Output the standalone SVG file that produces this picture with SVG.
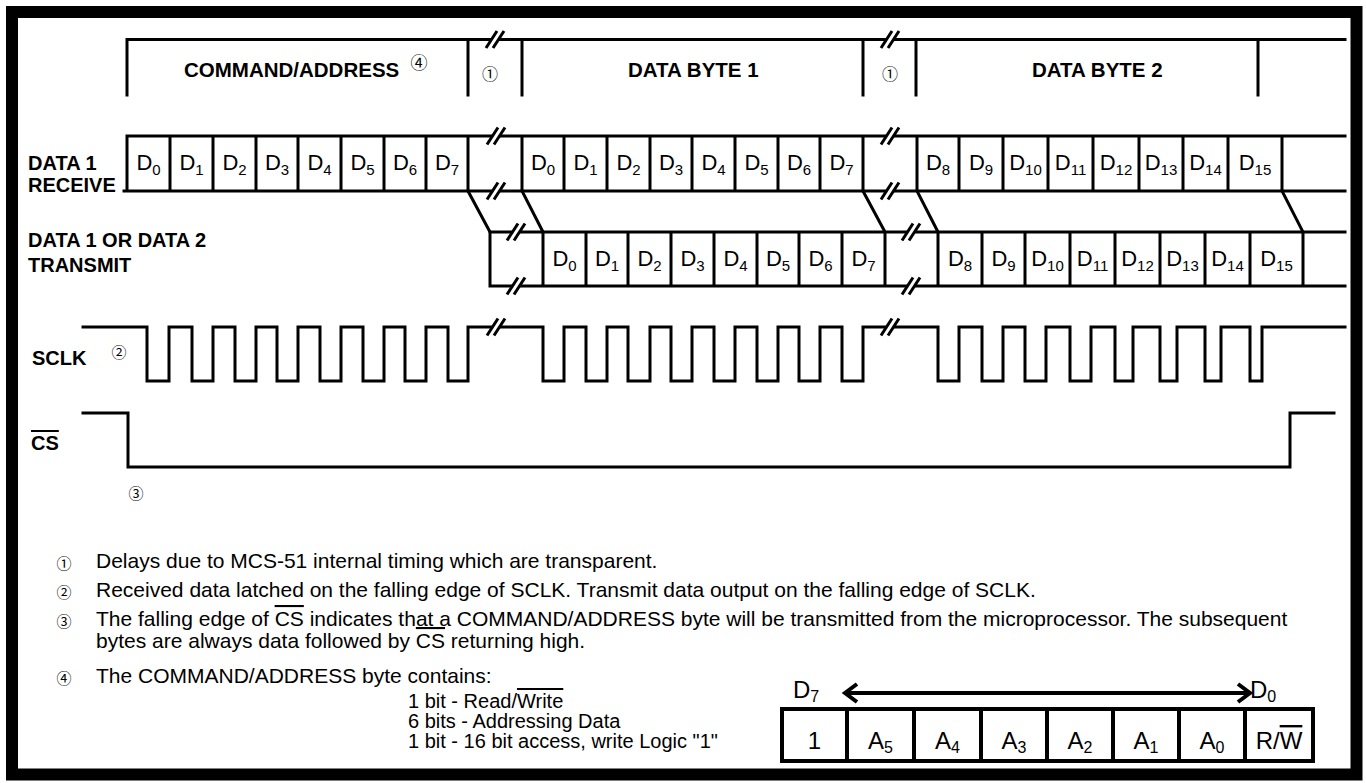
<svg xmlns="http://www.w3.org/2000/svg" xmlns:xlink="http://www.w3.org/1999/xlink" width="1366" height="783" viewBox="0 0 1366 783">
<style>
.sig{fill:none;stroke:#000;stroke-width:3;stroke-linejoin:miter;stroke-linecap:square}
.lbl{font-family:"Liberation Sans",Arial,sans-serif;font-weight:bold;font-size:20px;fill:#000}
.hdr{font-family:"Liberation Sans",Arial,sans-serif;font-weight:bold;font-size:20.5px;fill:#000}
.d{font-family:"Liberation Sans",Arial,sans-serif;font-size:22px;fill:#000;text-anchor:middle}
.sub{font-size:15px}
.note{font-family:"Liberation Sans",Arial,sans-serif;font-size:21px;fill:#000}
.sn{font-family:"Liberation Sans",Arial,sans-serif;font-size:20px;fill:#000}
.circ{font-family:"Noto Sans CJK JP","DejaVu Sans",sans-serif;fill:#000;text-anchor:middle}
.box{font-family:"Liberation Sans",Arial,sans-serif;font-size:24px;fill:#000;text-anchor:middle}
.bsub{font-size:16px}
.ov{text-decoration:overline}
</style>
<defs>
<g id="brk">
<polygon points="-9,8.5 2,-8.5 9,-8.5 -2,8.5" fill="#fff" stroke="none"/>
<line x1="-9" y1="8.5" x2="2" y2="-8.5" stroke="#000" stroke-width="3"/>
<line x1="-2" y1="8.5" x2="9" y2="-8.5" stroke="#000" stroke-width="3"/>
</g>
</defs>
<rect x="0" y="0" width="1366" height="783" fill="#fff"/>
<rect id="frame" x="12" y="12" width="1344.5" height="762.5" fill="none" stroke="#000" stroke-width="12"/>

<g id="header">
<path class="sig" d="M127,95 V39.5 H1345 M468,39.5 V95 M522,39.5 V95 M863,39.5 V95 M916,39.5 V95 M1258,39.5 V95"/>
<use xlink:href="#brk" x="495" y="39.5"/>
<use xlink:href="#brk" x="890" y="39.5"/>
<text class="hdr" x="184" y="77">COMMAND/ADDRESS</text>
<text class="circ" x="419" y="69" font-size="17">④</text>
<text class="circ" x="490" y="80" font-size="16">①</text>
<text class="hdr" x="628" y="77">DATA BYTE 1</text>
<text class="circ" x="890" y="80" font-size="16">①</text>
<text class="hdr" x="1032" y="77">DATA BYTE 2</text>
</g>

<g id="labels">
<text class="lbl" x="28" y="170">DATA 1</text>
<text class="lbl" x="28" y="192">RECEIVE</text>
<text class="lbl" x="28" y="247">DATA 1 OR DATA 2</text>
<text class="lbl" x="28" y="272">TRANSMIT</text>
<text class="lbl" x="32" y="365">SCLK</text>
<text class="circ" x="119" y="358" font-size="15">②</text>
<text class="lbl" x="31" y="450"><tspan class="ov">CS</tspan></text>
<text class="circ" x="136" y="499" font-size="15">③</text>
</g>

<g id="receive">
<path class="sig" d="M127,136 H1345 M124,191 H1345
M127,136 V191 M170,136 V191 M213,136 V191 M256,136 V191 M298,136 V191 M341,136 V191 M384,136 V191 M426,136 V191 M468,136 V191
M522,136 V191 M564,136 V191 M607,136 V191 M650,136 V191 M692,136 V191 M735,136 V191 M778,136 V191 M820,136 V191 M863,136 V191
M917,136 V191 M959,136 V191 M1003,136 V191 M1048,136 V191 M1093,136 V191 M1139,136 V191 M1183,136 V191 M1228,136 V191 M1282,136 V191"/>
<use xlink:href="#brk" x="496" y="136"/>
<use xlink:href="#brk" x="496" y="191"/>
<use xlink:href="#brk" x="890" y="136"/>
<use xlink:href="#brk" x="890" y="191"/>
<g>
<text class="d" x="148.5" y="170">D<tspan class="sub" dy="5">0</tspan></text>
<text class="d" x="191.5" y="170">D<tspan class="sub" dy="5">1</tspan></text>
<text class="d" x="234.5" y="170">D<tspan class="sub" dy="5">2</tspan></text>
<text class="d" x="277" y="170">D<tspan class="sub" dy="5">3</tspan></text>
<text class="d" x="319.5" y="170">D<tspan class="sub" dy="5">4</tspan></text>
<text class="d" x="362.5" y="170">D<tspan class="sub" dy="5">5</tspan></text>
<text class="d" x="405" y="170">D<tspan class="sub" dy="5">6</tspan></text>
<text class="d" x="447" y="170">D<tspan class="sub" dy="5">7</tspan></text>
<text class="d" x="543" y="170">D<tspan class="sub" dy="5">0</tspan></text>
<text class="d" x="585.5" y="170">D<tspan class="sub" dy="5">1</tspan></text>
<text class="d" x="628.5" y="170">D<tspan class="sub" dy="5">2</tspan></text>
<text class="d" x="671" y="170">D<tspan class="sub" dy="5">3</tspan></text>
<text class="d" x="713.5" y="170">D<tspan class="sub" dy="5">4</tspan></text>
<text class="d" x="756.5" y="170">D<tspan class="sub" dy="5">5</tspan></text>
<text class="d" x="799" y="170">D<tspan class="sub" dy="5">6</tspan></text>
<text class="d" x="841.5" y="170">D<tspan class="sub" dy="5">7</tspan></text>
<text class="d" x="938" y="170">D<tspan class="sub" dy="5">8</tspan></text>
<text class="d" x="981" y="170">D<tspan class="sub" dy="5">9</tspan></text>
<text class="d" x="1025.5" y="170">D<tspan class="sub" dy="5">10</tspan></text>
<text class="d" x="1070.5" y="170">D<tspan class="sub" dy="5">11</tspan></text>
<text class="d" x="1116" y="170">D<tspan class="sub" dy="5">12</tspan></text>
<text class="d" x="1161" y="170">D<tspan class="sub" dy="5">13</tspan></text>
<text class="d" x="1205.5" y="170">D<tspan class="sub" dy="5">14</tspan></text>
<text class="d" x="1255" y="170">D<tspan class="sub" dy="5">15</tspan></text>
</g>
</g>

<g id="connectors">
<path class="sig" d="M468,191 L490,232 M522,191 L543,232 M863,191 L885,232 M917,191 L938,232 M1282,191 L1303,232"/>
</g>

<g id="transmit">
<path class="sig" d="M490,232 H1345 M490,286 H1345
M490,232 V286 M543,232 V286 M586,232 V286 M628,232 V286 M671,232 V286 M714,232 V286 M757,232 V286 M799,232 V286 M842,232 V286 M885,232 V286
M938,232 V286 M982,232 V286 M1025,232 V286 M1070,232 V286 M1115,232 V286 M1160,232 V286 M1205,232 V286 M1250,232 V286 M1303,232 V286"/>
<use xlink:href="#brk" x="516" y="232"/>
<use xlink:href="#brk" x="516" y="286"/>
<use xlink:href="#brk" x="911" y="232"/>
<use xlink:href="#brk" x="911" y="286"/>
<g>
<text class="d" x="564.5" y="266">D<tspan class="sub" dy="5">0</tspan></text>
<text class="d" x="607" y="266">D<tspan class="sub" dy="5">1</tspan></text>
<text class="d" x="649.5" y="266">D<tspan class="sub" dy="5">2</tspan></text>
<text class="d" x="692.5" y="266">D<tspan class="sub" dy="5">3</tspan></text>
<text class="d" x="735.5" y="266">D<tspan class="sub" dy="5">4</tspan></text>
<text class="d" x="778" y="266">D<tspan class="sub" dy="5">5</tspan></text>
<text class="d" x="820.5" y="266">D<tspan class="sub" dy="5">6</tspan></text>
<text class="d" x="863.5" y="266">D<tspan class="sub" dy="5">7</tspan></text>
<text class="d" x="960" y="266">D<tspan class="sub" dy="5">8</tspan></text>
<text class="d" x="1003.5" y="266">D<tspan class="sub" dy="5">9</tspan></text>
<text class="d" x="1047.5" y="266">D<tspan class="sub" dy="5">10</tspan></text>
<text class="d" x="1092.5" y="266">D<tspan class="sub" dy="5">11</tspan></text>
<text class="d" x="1137.5" y="266">D<tspan class="sub" dy="5">12</tspan></text>
<text class="d" x="1182.5" y="266">D<tspan class="sub" dy="5">13</tspan></text>
<text class="d" x="1227.5" y="266">D<tspan class="sub" dy="5">14</tspan></text>
<text class="d" x="1276.5" y="266">D<tspan class="sub" dy="5">15</tspan></text>
</g>
</g>

<g id="sclk">
<path class="sig" d="M83,327 H147 V381 H169 V327 H192 V381 H213 V327 H235 V381 H256 V327 H277 V381 H298 V327 H320 V381 H341 V327 H363 V381 H384 V327 H405 V381 H426 V327 H448 V381 H468 V327 H543 V381 H564 V327 H586 V381 H607 V327 H628 V381 H650 V327 H671 V381 H692 V327 H714 V381 H735 V327 H757 V381 H778 V327 H799 V381 H820 V327 H842 V381 H863 V327 H938 V381 H959 V327 H982 V381 H1003 V327 H1025 V381 H1046 V327 H1070 V381 H1091 V327 H1115 V381 H1133 V327 H1160 V381 H1177 V327 H1205 V381 H1221 V327 H1250 V381 H1262 V327 H1345"/>
<use xlink:href="#brk" x="496" y="327"/>
<use xlink:href="#brk" x="890" y="327"/>
</g>

<g id="cs">
<path class="sig" d="M83,413 H128 V467 H1290 V413 H1334"/>
</g>

<g id="notes">
<text class="circ" x="64" y="569" font-size="15">①</text>
<text class="note" x="96" y="568">Delays due to MCS-51 internal timing which are transparent.</text>
<text class="circ" x="64" y="598" font-size="15">②</text>
<text class="note" x="96" y="597">Received data latched on the falling edge of SCLK. Transmit data output on the falling edge of SCLK.</text>
<text class="circ" x="64" y="627" font-size="15">③</text>
<text class="note" x="96" y="626">The falling edge of <tspan class="ov">CS</tspan> indicates that a COMMAND/ADDRESS byte will be transmitted from the microprocessor. The subsequent</text>
<text class="note" x="96" y="648">bytes are always data followed by <tspan class="ov">CS</tspan> returning high.</text>
<text class="circ" x="64" y="684" font-size="15">④</text>
<text class="note" x="96" y="683">The COMMAND/ADDRESS byte contains:</text>
<text class="sn" x="408" y="708">1 bit - Read/<tspan class="ov">Write</tspan></text>
<text class="sn" x="408" y="728">6 bits - Addressing Data</text>
<text class="sn" x="408" y="748">1 bit - 16 bit access, write Logic "1"</text>
</g>

<g id="byte-format">
<path d="M846,693 H1249 M857,684 L845,693 L857,702 M1238,684 L1250,693 L1238,702" fill="none" stroke="#000" stroke-width="4"/>
<text class="box" x="806" y="698" text-anchor="start">D<tspan class="bsub" dy="4">7</tspan></text>
<text class="box" x="1263" y="698" text-anchor="start">D<tspan class="bsub" dy="4">0</tspan></text>
<rect x="782" y="709" width="531" height="52" fill="none" stroke="#000" stroke-width="4"/>
<path d="M847,709 V761 M914,709 V761 M981,709 V761 M1047,709 V761 M1113,709 V761 M1179,709 V761 M1245,709 V761" fill="none" stroke="#000" stroke-width="4"/>
<text class="box" x="814.5" y="749">1</text>
<text class="box" x="880.5" y="749">A<tspan class="bsub" dy="4">5</tspan></text>
<text class="box" x="947.5" y="749">A<tspan class="bsub" dy="4">4</tspan></text>
<text class="box" x="1014" y="749">A<tspan class="bsub" dy="4">3</tspan></text>
<text class="box" x="1080" y="749">A<tspan class="bsub" dy="4">2</tspan></text>
<text class="box" x="1146" y="749">A<tspan class="bsub" dy="4">1</tspan></text>
<text class="box" x="1212" y="749">A<tspan class="bsub" dy="4">0</tspan></text>
<text class="box" x="1279" y="749">R/<tspan class="ov">W</tspan></text>
</g>
</svg>
